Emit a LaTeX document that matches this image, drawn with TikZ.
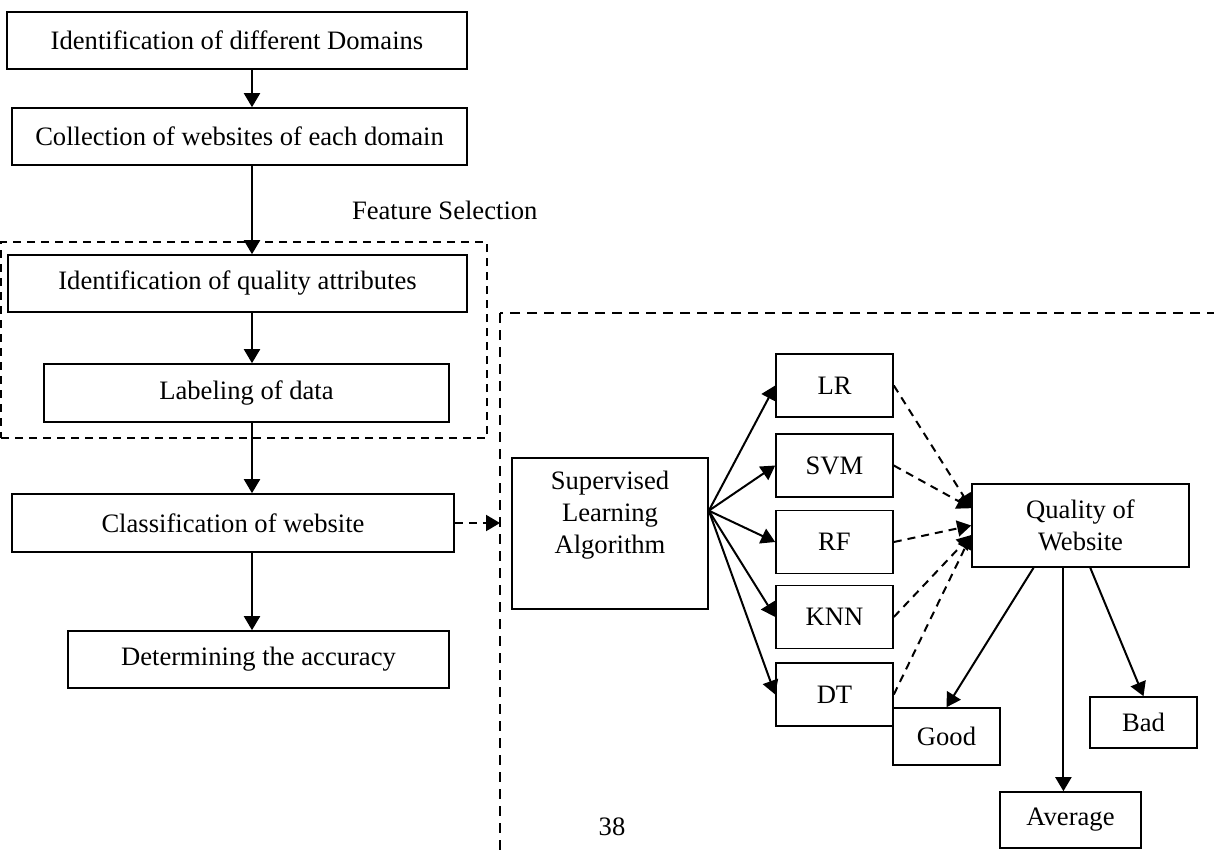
\documentclass[tikz,border=0pt]{standalone}
\usepackage{fontspec}
\setmainfont{Liberation Serif}
\usetikzlibrary{arrows.meta}
\begin{document}
\begin{tikzpicture}[x=0.5pt,y=-0.5pt,
  font=\fontsize{13.3}{16}\selectfont,
  wh/.style 2 args={minimum width=#1*0.5pt, minimum height=#2*0.5pt},
  box/.style={draw, line width=0.8pt, inner sep=0pt, align=center},
  cls/.style={box, wh={117}{63}},
  arr/.style={-{Triangle[length=7pt,width=8pt]}, line width=1pt},
  darr/.style={arr, dash pattern=on 4pt off 3pt},
  fsline/.style={draw, line width=0.75pt, dash pattern=on 4pt off 3pt, inner sep=0pt},
  regline/.style={line width=1.3pt, dash pattern=on 5pt off 3.5pt}]
\clip (0,0) rectangle (1214,851);

% main pipeline
\node[box, wh={460}{57}] (b1) at (237,40.5) {Identification of different Domains};
\node[box, wh={455}{57}] (b2) at (239.5,136.5) {Collection of websites of each domain};
\node[anchor=west] (fs) at (345,210) {Feature Selection};
\node[fsline, wh={486}{196}] (fsreg) at (244,340) {};
\node[box, wh={459}{57}] (b3) at (237.5,283.5) {Identification of quality attributes};
\node[box, wh={405}{58}] (b4) at (246.5,393) {Labeling of data};
\node[box, wh={442}{58}] (b5) at (233,523) {Classification of website};
\node[box, wh={381}{57}] (b6) at (258.5,659.5) {Determining the accuracy};

\coordinate (spine) at (252,0);
\draw[arr] (b1.south -| spine) -- (b2.north -| spine);
\draw[arr] (b2.south -| spine) -- (b3.north -| spine);
\draw[arr] (b3.south -| spine) -- (b4.north -| spine);
\draw[arr] (b4.south -| spine) -- (b5.north -| spine);
\draw[arr] (b5.south -| spine) -- (b6.north -| spine);

% classification region
\coordinate (reg) at (500,313);
\draw[regline] (reg) rectangle (1300,900);
\draw[darr] (b5.east) -- (b5.east -| reg);

\node[box, wh={196}{151},
  label={[align=center, yshift=9.25pt]center:Supervised\\Learning\\Algorithm}] (sla) at (610,533.5) {};

\node[cls] (lr)  at (834.5,385.5) {LR};
\node[cls] (svm) at (834.5,465.5) {SVM};
\node[cls] (rf)  at (834.5,542)   {RF};
\node[cls] (knn) at (834.5,617)   {KNN};
\node[cls] (dt)  at (834.5,694.5) {DT};

\node[box, wh={217}{83}] (q) at (1080.5,525.5) {Quality of\\Website};
\node[box, wh={107}{57}] (good) at (946.5,736.5) {Good};
\node[box, wh={107}{51}] (bad) at (1143.5,722.5) {Bad};
\node[box, wh={141}{56}] (avg) at (1070.5,820) {Average};

\foreach \c in {lr,svm,rf,knn,dt}
  \draw[arr] (sla.13) -- (\c.west);

\draw[darr] (lr.east)  -- (q.171);
\draw[darr] (svm.east) -- (q.171);
\draw[darr] (rf.east)  -- (q.180);
\draw[darr] (knn.east) -- (q.185);
\draw[darr] (dt.east)  -- (q.185);

\draw[arr] (q.222) -- (good.north);
\draw[arr] (q.248) -- (q.248 |- avg.north);
\draw[arr] (q.283) -- (bad.north);

\node (pg) at (612,827) {38};
\end{tikzpicture}
\end{document}
